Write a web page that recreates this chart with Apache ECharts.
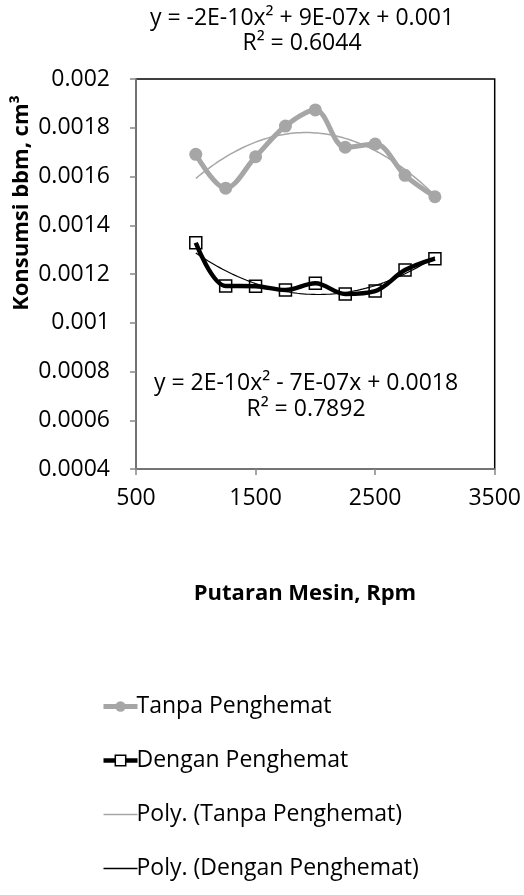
<!DOCTYPE html>
<html><head><meta charset="utf-8">
<script src="https://cdn.jsdelivr.net/npm/echarts@6/dist/echarts.min.js"></script>
<style>html,body{margin:0;padding:0;background:#fff}#c{width:524px;height:895px}</style>
</head><body><div id="c"></div>
<script>
const rpm = [1000, 1250, 1500, 1750, 2000, 2250, 2500, 2750, 3000];
const tanpa = [0.001691, 0.001552, 0.001681, 0.001807, 0.001873, 0.001720, 0.001733, 0.001605, 0.001517];
const dengan = [0.001328, 0.001151, 0.001150, 0.001134, 0.001162, 0.001118, 0.001130, 0.001216, 0.001263];
const seriesNames = ['Tanpa Penghemat', 'Dengan Penghemat', 'Poly. (Tanpa Penghemat)', 'Poly. (Dengan Penghemat)'];
const eqTanpa = ['y = -2E-10x² + 9E-07x + 0.001', 'R² = 0.6044'];
const eqDengan = ['y = 2E-10x² - 7E-07x + 0.0018', 'R² = 0.7892'];
const xAxisTitle = 'Putaran Mesin, Rpm';
const yAxisTitle = 'Konsumsi bbm, cm³';

// least-squares quadratic trendline computed from the data
function polyfit2(xs, ys) {
  const s = 1000;
  let S = [0,0,0,0,0], T = [0,0,0];
  xs.forEach((x0, i) => {
    const x = x0 / s;
    for (let k = 0; k < 5; k++) S[k] += Math.pow(x, k);
    for (let k = 0; k < 3; k++) T[k] += ys[i] * Math.pow(x, k);
  });
  const A = [[S[0],S[1],S[2],T[0]],[S[1],S[2],S[3],T[1]],[S[2],S[3],S[4],T[2]]];
  for (let i = 0; i < 3; i++) {
    for (let j = i + 1; j < 3; j++) {
      const f = A[j][i] / A[i][i];
      for (let k = i; k < 4; k++) A[j][k] -= f * A[i][k];
    }
  }
  const c = [0,0,0];
  for (let i = 2; i >= 0; i--) {
    let v = A[i][3];
    for (let k = i + 1; k < 3; k++) v -= A[i][k] * c[k];
    c[i] = v / A[i][i];
  }
  return x0 => { const x = x0 / s; return c[0] + c[1]*x + c[2]*x*x; };
}
function trend(xs, ys) {
  const f = polyfit2(xs, ys);
  const out = [];
  const x0 = xs[0], x1 = xs[xs.length - 1];
  for (let x = x0; x <= x1; x += 25) out.push([x, f(x)]);
  return out;
}

const chart = echarts.init(document.getElementById('c'), null, {renderer: 'canvas'});
const FONT = 'Open Sans';
const txt = (text, x, y, size, weight, extra) => Object.assign({
  type: 'text', x: x, y: y, z: 100,
  style: {text: text, fontFamily: FONT, fontSize: size, fontWeight: weight || 'normal', fill: '#000', textAlign: 'center', textVerticalAlign: 'middle'}
}, extra || {});

const GRAY = '#A6A6A6';
chart.setOption({
  animation: false,
  backgroundColor: '#fff',
  grid: {left: 136, right: 29, top: 79, bottom: 426, show: true, borderColor: '#000', borderWidth: 1.5, containLabel: false},
  xAxis: {
    type: 'value', min: 500, max: 3500, interval: 1000,
    axisLine: {show: true, lineStyle: {color: '#868686', width: 1.5}},
    axisTick: {show: true, inside: false, length: 6, lineStyle: {color: '#868686', width: 1.5}},
    axisLabel: {color: '#000', fontFamily: FONT, fontSize: 23, margin: 18, formatter: v => String(v)},
    splitLine: {show: false}
  },
  yAxis: {
    type: 'value', min: 0.0004, max: 0.002, interval: 0.0002,
    axisLine: {show: true, lineStyle: {color: '#868686', width: 1.5}},
    axisTick: {show: true, inside: false, length: 6, lineStyle: {color: '#868686', width: 1.5}},
    axisLabel: {color: '#000', fontFamily: FONT, fontSize: 23, margin: 26,
      formatter: v => parseFloat(v.toFixed(5)).toString()},
    splitLine: {show: false}
  },
  legend: {
    orient: 'vertical', left: 96, top: 690, itemGap: 31, itemWidth: 34, itemHeight: 13,
    textStyle: {fontFamily: FONT, fontSize: 23, color: '#000', padding: [0,0,0,-6]},
    data: [
      {name: seriesNames[0], lineStyle: {color: GRAY, width: 5}, itemStyle: {color: GRAY}},
      {name: seriesNames[1], lineStyle: {color: '#000', width: 4.5}, itemStyle: {color: '#fff', borderColor: '#000', borderWidth: 1.5}},
      {name: seriesNames[2], lineStyle: {color: GRAY, width: 1.5}, itemStyle: {opacity: 0}},
      {name: seriesNames[3], lineStyle: {color: '#000', width: 1.5}, itemStyle: {opacity: 0}}
    ]
  },
  series: [
    {name: seriesNames[0], type: 'line', smooth: 0.35, data: rpm.map((x, i) => [x, tanpa[i]]),
     symbol: 'circle', symbolSize: 13, lineStyle: {color: GRAY, width: 5}, itemStyle: {color: GRAY}, z: 2},
    {name: seriesNames[1], type: 'line', smooth: 0.35, data: rpm.map((x, i) => [x, dengan[i]]),
     symbol: 'rect', symbolSize: 12, lineStyle: {color: '#000', width: 4.5},
     itemStyle: {color: 'rgba(255,255,255,0)', borderColor: '#000', borderWidth: 1.5}, z: 3},
    {name: seriesNames[2], type: 'line', data: trend(rpm, tanpa), showSymbol: false, symbol: 'none',
     lineStyle: {color: GRAY, width: 1.5}, itemStyle: {color: GRAY}, z: 4},
    {name: seriesNames[3], type: 'line', data: trend(rpm, dengan), showSymbol: false, symbol: 'none',
     lineStyle: {color: '#000', width: 1.2}, itemStyle: {color: '#000'}, z: 4}
  ],
  graphic: [
    txt(eqTanpa[0], 302, 18, 23),
    txt(eqTanpa[1], 302, 43, 23),
    txt(eqDengan[0], 306, 383, 23),
    txt(eqDengan[1], 306, 409, 23),
    txt(xAxisTitle, 305, 594, 22, 'bold'),
    txt(yAxisTitle, 22, 203, 22, 'bold', {rotation: Math.PI / 2})
  ]
});
</script></body></html>
